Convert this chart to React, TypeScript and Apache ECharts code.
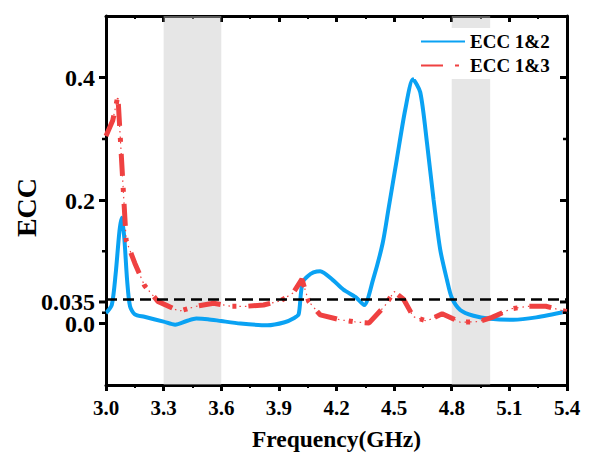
import React, { useEffect, useRef } from "react";
import * as echarts from "echarts";

// ECC 1&2 (blue, solid)
const freq12 = [
  3.0, 3.03, 3.05, 3.07, 3.082, 3.095, 3.11, 3.125, 3.15, 3.2, 3.3, 3.36, 3.42, 3.47, 3.53, 3.6,
  3.7, 3.84, 3.93, 3.98, 4.003, 4.015, 4.025, 4.05, 4.08, 4.115, 4.18, 4.236, 4.3, 4.344, 4.39,
  4.44, 4.47, 4.514, 4.558, 4.598, 4.636, 4.671, 4.705, 4.74, 4.775, 4.8, 4.844, 4.913, 5.0,
  5.12, 5.24, 5.4,
];
const ecc12 = [
  0.017, 0.03, 0.08, 0.15, 0.172, 0.14, 0.07, 0.028, 0.015, 0.011, 0.003, -0.002, 0.004, 0.008,
  0.007, 0.004, 0.0, -0.003, 0.002, 0.009, 0.015, 0.05, 0.068, 0.077, 0.083, 0.085, 0.071, 0.055,
  0.043, 0.03, 0.071, 0.13, 0.185, 0.267, 0.348, 0.397, 0.376, 0.294, 0.202, 0.12, 0.071, 0.042,
  0.022, 0.0126, 0.0077, 0.006, 0.01, 0.02,
];

// ECC 1&3 (red, dash-dot)
const freq13 = [
  3.0, 3.035, 3.062, 3.105, 3.15, 3.2, 3.27, 3.38, 3.47, 3.56, 3.65, 3.73, 3.82, 3.91, 3.975, 4.02,
  4.055, 4.115, 4.22, 4.31, 4.37, 4.45, 4.5, 4.55, 4.6, 4.67, 4.75, 4.845, 4.94, 5.01, 5.11, 5.2,
  5.29, 5.4,
];
const ecc13 = [
  0.305, 0.33, 0.37, 0.135, 0.098, 0.062, 0.036, 0.02, 0.028, 0.033, 0.028, 0.028, 0.03, 0.037,
  0.05, 0.072, 0.036, 0.014, 0.006, 0.002, 0.001, 0.028, 0.052, 0.039, 0.011, 0.004, 0.016, 0.002,
  0.003, 0.01, 0.024, 0.028, 0.028, 0.019,
];

const yLabelValues = [0, 0.2, 0.4];
const yThresholdLabel = [0.035];
const yMajorTicks = [0, 0.035, 0.2, 0.4];
const yMinorTicks = [0.0175, 0.1175, 0.3];
const bands = [
  [3.3, 3.6],
  [4.8, 5.0],
];
const thresholdValue = 0.035;
const X_MIN = 3.0;
const X_MAX = 5.4;

const FONT = "'Liberation Serif', 'Times New Roman', serif";
const BLUE = "#0AA2F3";
const RED = "#EF4141";
const GRID = { left: 106, right: 28, top: 16, bottom: 72 };

export default function App() {
  const ref = useRef<HTMLDivElement>(null);
  useEffect(() => {
    if (!ref.current) return;
    const chart = echarts.init(ref.current, undefined, { renderer: "svg" });
    const d12 = freq12.map((f, i) => [f, ecc12[i]]);
    const d13 = freq13.map((f, i) => [f, ecc13[i]]);
    // tick rows: [value, isMajor]
    const tickRows = [
      ...yMajorTicks.map((v) => [X_MIN, v, 1]),
      ...yMinorTicks.map((v) => [X_MIN, v, 0]),
    ];
    const labelStyle = { fontFamily: FONT, fontWeight: "bold", color: "#000" };
    const axisLineStyle = { show: true, onZero: false, lineStyle: { color: "#000", width: 3 } };
    const xBase = {
      type: "value",
      min: X_MIN,
      max: X_MAX,
      interval: 0.3,
      splitLine: { show: false },
      minorTick: { show: true, splitNumber: 2, length: 3, lineStyle: { color: "#000", width: 2 } },
    };
    const yBase = { type: "value", min: -0.1, max: 0.5, splitLine: { show: false } };
    const yLabel = { ...labelStyle, fontSize: 24, lineHeight: 18, margin: 11, hideOverlap: false };
    const fmt = (v: number) => (v === 0 ? "0.0" : String(v));
    chart.setOption({
      animation: false,
      backgroundColor: "#fff",
      grid: { ...GRID, containLabel: false, outerBoundsMode: "none" },
      legend: {
        data: ["ECC 1&2", "ECC 1&3"],
        orient: "vertical",
        left: 414,
        top: 28,
        backgroundColor: "#fff",
        padding: [4, 6, 4, 6],
        itemWidth: 44,
        itemHeight: 14,
        itemGap: 5,
        z: 10,
        itemStyle: { opacity: 0 },
        textStyle: { fontFamily: FONT, fontWeight: "bold", fontSize: 19, color: "#000" },
      },
      xAxis: [
        {
          ...xBase,
          position: "bottom",
          name: "Frequency(GHz)",
          nameLocation: "middle",
          nameGap: 42,
          nameTextStyle: { ...labelStyle, fontSize: 23.5 },
          axisLine: axisLineStyle,
          axisTick: { show: true, length: 6, lineStyle: { color: "#000", width: 3 } },
          axisLabel: { ...labelStyle, fontSize: 21, margin: 12, formatter: (v: number) => v.toFixed(1) },
        },
        {
          ...xBase,
          position: "top",
          axisLine: axisLineStyle,
          axisTick: { show: true, inside: true, length: 6, lineStyle: { color: "#000", width: 3 } },
          axisLabel: { show: false },
        },
      ],
      yAxis: [
        {
          ...yBase,
          position: "left",
          name: "ECC",
          nameLocation: "middle",
          nameGap: 66,
          nameTextStyle: { ...labelStyle, fontSize: 28, padding: [0, 14, 0, 0] },
          axisLine: axisLineStyle,
          axisTick: { show: false },
          axisLabel: { ...yLabel, customValues: yLabelValues, formatter: fmt },
        },
        {
          ...yBase,
          position: "left",
          axisLine: { show: false },
          axisTick: { show: false },
          axisLabel: { ...yLabel, customValues: yThresholdLabel, formatter: fmt },
        },
        {
          ...yBase,
          position: "right",
          axisLine: axisLineStyle,
          axisTick: { show: false },
          axisLabel: { show: false },
        },
      ],
      series: [
        {
          name: "ECC 1&2",
          type: "line",
          data: d12,
          smooth: 0.25,
          symbol: "none",
          z: 2,
          lineStyle: { color: BLUE, width: 4 },
          itemStyle: { color: BLUE },
          markLine: {
            silent: true,
            symbol: "none",
            label: { show: false },
            lineStyle: { color: "#000", width: 2.5, type: [11, 6] },
            data: [{ yAxis: thresholdValue }],
          },
        },
        {
          name: "ECC 1&3 dots",
          type: "line",
          data: d13,
          symbol: "none",
          z: 3,
          lineStyle: { color: RED, width: 1.2, type: [1.5, 4] },
          itemStyle: { color: RED },
        },
        {
          name: "ECC 1&3",
          type: "line",
          data: d13,
          symbol: "none",
          z: 3,
          lineStyle: { color: RED, width: 5, type: [22, 12, 4, 12] },
          itemStyle: { color: RED },
        },
        {
          name: "bands",
          type: "line",
          data: d12,
          symbol: "none",
          z: 5,
          lineStyle: { width: 0, opacity: 0 },
          markArea: {
            silent: true,
            itemStyle: { color: "rgba(200,200,200,0.45)" },
            data: bands.map(([a, b]) => [{ xAxis: a }, { xAxis: b }]),
          },
        },
        {
          name: "yTicks",
          type: "custom",
          silent: true,
          clip: false,
          z: 20,
          encode: { x: 0, y: 1 },
          data: tickRows,
          renderItem: (params: any, api: any) => {
            const v = api.value(1);
            const major = api.value(2) === 1;
            const len = major ? 7 : 4;
            const lw = major ? 3 : 2.5;
            const pl = api.coord([X_MIN, v]);
            const pr = api.coord([X_MAX, v]);
            const style = { stroke: "#000", lineWidth: lw, fill: null };
            return {
              type: "group",
              children: [
                { type: "line", shape: { x1: pl[0] - len, y1: pl[1], x2: pl[0], y2: pl[1] }, style },
                { type: "line", shape: { x1: pr[0] - len, y1: pr[1], x2: pr[0], y2: pr[1] }, style },
              ],
            };
          },
        },
      ],
    });

    return () => chart.dispose();
  }, []);
  return <div ref={ref} style={{ width: 595, height: 457, position: "absolute", left: 0, top: 0 }} />;
}
